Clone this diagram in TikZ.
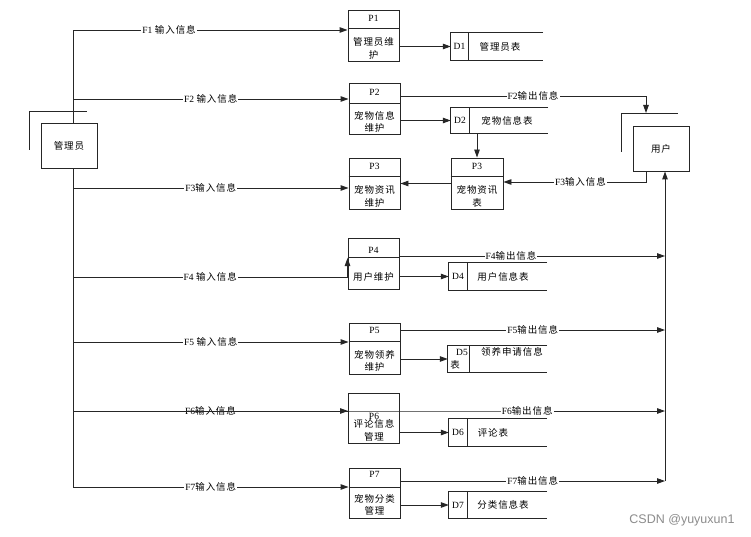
\documentclass[tikz,border=0pt]{standalone}
\usepackage{fontspec}
\setmainfont{Liberation Serif}
\newfontfamily\cjk[LetterSpace=10]{Noto Sans CJK SC}
\newfontfamily\wmfont{Liberation Sans}
\newcommand\zh[1]{{\cjk #1}}
\usetikzlibrary{arrows.meta}
\begin{document}
\begin{tikzpicture}[x=1pt,y=-1pt,
 line/.style={draw=black!85, line width=0.95pt},
 flow/.style={line, -{Triangle[length=8pt,width=5.5pt]}},
 pbox/.style={line, minimum width=51pt, minimum height=51pt, inner sep=0pt},
 ebox/.style={line, minimum width=56pt, minimum height=45pt, inner sep=0pt, font=\fontsize{9.5}{10}\selectfont},
 dstore/.style={minimum height=26pt, inner sep=0pt},
 txt/.style={inner sep=0pt, font=\fontsize{9.5}{12.5}\selectfont, align=center},
 lbl/.style={fill=white, inner sep=1pt, font=\fontsize{9.5}{10}\selectfont},
]
\useasboundingbox (0,0) rectangle (751,537);
\fill[white] (0,0) rectangle (751,537);

% external entities
\node[ebox] (admin) at (69,146) {\zh{管理员}};
\draw[line] (29,150) -- (29,111) -- (87,111);
\node[ebox] (user) at (661,148.5) {\zh{用户}};
\coordinate (ushd) at (621,113);
\draw[line] (621,152) -- (ushd) -- (678,113);

% processes
\node[pbox] (p1) at (373.5,35.5) {};
\draw[line] (p1.west |- 0,28) -- (p1.east |- 0,28);
\node[txt] (p1id) at (373.5,18) {P1};
\node[txt] (p1t) at (373.5,48.5) {\zh{管理员维}\\\zh{护}};

\node[pbox] (p2) at (374.5,109) {};
\draw[line] (p2.west |- 0,103) -- (p2.east |- 0,103);
\node[txt] (p2id) at (374.5,92) {P2};
\node[txt] (p2t) at (374.5,122) {\zh{宠物信息}\\\zh{维护}};

\node[pbox] (p3l) at (374.5,183.5) {};
\draw[line] (p3l.west |- 0,176) -- (p3l.east |- 0,176);
\node[txt] (p3lid) at (374.5,166) {P3};
\node[txt] (p3lt) at (374.5,196.5) {\zh{宠物资讯}\\\zh{维护}};

\node[pbox, minimum width=52pt] (p3r) at (477,183.5) {};
\draw[line] (p3r.west |- 0,176) -- (p3r.east |- 0,176);
\node[txt] (p3rid) at (477,166) {P3};
\node[txt] (p3rt) at (477,196.5) {\zh{宠物资讯}\\\zh{表}};

\node[pbox] (p4) at (373.5,263.5) {};
\draw[line] (p4.west |- 0,257) -- (p4.east |- 0,257);
\node[txt] (p4id) at (373.5,250) {P4};
\node[txt] (p4t) at (373.5,277) {\zh{用户维护}};

\node[pbox] (p5) at (374.5,348.5) {};
\draw[line] (p5.west |- 0,341) -- (p5.east |- 0,341);
\node[txt] (p5id) at (374.5,330) {P5};
\node[txt] (p5t) at (374.5,361) {\zh{宠物领养}\\\zh{维护}};

\node[pbox, minimum height=50pt] (p6) at (374,418) {};
\node[txt] (p6id) at (374,416) {P6};
\node[txt] (p6t) at (374,430.5) {\zh{评论信息}\\\zh{管理}};

\node[pbox, minimum height=50pt] (p7) at (374.5,493) {};
\draw[line] (p7.west |- 0,487) -- (p7.east |- 0,487);
\node[txt] (p7id) at (374.5,474) {P7};
\node[txt] (p7t) at (374.5,505) {\zh{宠物分类}\\\zh{管理}};

% data stores
\node[dstore, minimum width=92pt, minimum height=27pt] (d1) at (497,46.5) {};
\draw[line] (d1.north east) -- (d1.north west) -- (d1.south west) -- (d1.south east);
\draw[line] (d1.north west -| 468,0) -- (d1.south west -| 468,0);
\node[txt] (d1id) at (459.5,46.5) {D1};
\node[txt] (d1t) at (500,46.5) {\zh{管理员表}};

\node[dstore, minimum width=97pt, minimum height=25pt] (d2) at (499.5,120.5) {};
\draw[line] (d2.north east) -- (d2.north west) -- (d2.south west) -- (d2.south east);
\draw[line] (d2.north west -| 469,0) -- (d2.south west -| 469,0);
\node[txt] (d2id) at (460,120.5) {D2};
\node[txt] (d2t) at (507,120.5) {\zh{宠物信息表}};

\node[dstore, minimum width=98pt, minimum height=27pt] (d4) at (498,276.5) {};
\draw[line] (d4.north east) -- (d4.north west) -- (d4.south west) -- (d4.south east);
\draw[line] (d4.north west -| 467,0) -- (d4.south west -| 467,0);
\node[txt] (d4id) at (458,276.5) {D4};
\node[txt] (d4t) at (503,276.5) {\zh{用户信息表}};

\node[dstore, minimum width=99pt] (d5) at (497.5,359) {};
\draw[line] (d5.north east) -- (d5.north west) -- (d5.south west) -- (d5.south east);
\draw[line] (d5.north west -| 469,0) -- (d5.south west -| 469,0);
\node[txt] (d5id) at (462,352) {D5};
\node[txt] (d5b) at (455,365) {\zh{表}};
\node[txt] (d5t) at (512,352) {\zh{领养申请信息}};

\node[dstore, minimum width=98pt, minimum height=27pt] (d6) at (498,432.5) {};
\draw[line] (d6.north east) -- (d6.north west) -- (d6.south west) -- (d6.south east);
\draw[line] (d6.north west -| 467,0) -- (d6.south west -| 467,0);
\node[txt] (d6id) at (458,432.5) {D6};
\node[txt] (d6t) at (493,432.5) {\zh{评论表}};

\node[dstore, minimum width=98pt] (d7) at (498,505) {};
\draw[line] (d7.north east) -- (d7.north west) -- (d7.south west) -- (d7.south east);
\draw[line] (d7.north west -| 467,0) -- (d7.south west -| 467,0);
\node[txt] (d7id) at (458,505) {D7};
\node[txt] (d7t) at (503,505) {\zh{分类信息表}};

% admin trunk
\coordinate (t1) at (73,30);
\coordinate (t2) at (73,99);
\coordinate (t3) at (73,188);
\coordinate (t4) at (73,277);
\coordinate (t5) at (73,342);
\coordinate (t6) at (73,411);
\coordinate (t7) at (73,487);
\draw[line] (t1 |- admin.north) -- (t1);
\draw[line] (t1 |- admin.south) -- (t7);

\draw[flow] (t1) -- node[lbl,pos=0.35] (f1) {F1 \zh{输入信息}} (t1 -| p1.west);
\draw[flow] (t2) -- node[lbl] (f2) {F2 \zh{输入信息}} (t2 -| p2.west);
\draw[flow] (t3) -- node[lbl] (f3) {F3\zh{输入信息}} (t3 -| p3l.west);
\draw[line] (t4) -- node[lbl] (f4) {F4 \zh{输入信息}} (t4 -| p4.west);
\draw[flow] (t4 -| p4.west) -- ++(0,-19);
\draw[flow] (t5) -- node[lbl] (f5) {F5 \zh{输入信息}} (t5 -| p5.west);
\draw[line] (t6) -- node[lbl] (f6) {F6\zh{输入信息}} (t6 -| p6.west);
\draw[flow] (t6) -- (t6 -| p6.west);
\draw[flow] (t7) -- node[lbl] (f7) {F7\zh{输入信息}} (t7 -| p7.west);

% outputs to user
\coordinate (u2) at (646,96);
\draw[flow] (u2 -| p2.east) -- node[lbl,pos=0.54] (o2) {F2\zh{输出信息}} (u2) -- (u2 |- ushd);
\coordinate (u3) at (646,182);
\draw[flow] (u3 |- user.south) -- (u3) -- node[lbl,pos=0.46] (i3) {F3\zh{输入信息}} (u3 -| p3r.east);
\draw[flow] (p3r.west) -- (p3l.east);
\draw[flow] (d2.south -| p3r.north) -- (p3r.north);

\coordinate (rv) at (665,481);
\draw[flow] (rv) -- (rv |- user.south);
\draw[flow] (p4.east |- 0,256) -- node[lbl,pos=0.42] (o4) {F4\zh{输出信息}} (rv |- 0,256);
\draw[flow] (p5.east |- 0,330) -- node[lbl] (o5) {F5\zh{输出信息}} (rv |- 0,330);
\draw[flow] (p6.west |- 0,411) -- (p6.east |- 0,411) -- node[lbl,pos=0.48] (o6) {F6\zh{输出信息}} (rv |- 0,411);
\draw[flow] (p7.east |- 0,481) -- node[lbl] (o7) {F7\zh{输出信息}} (rv);

% process to store
\draw[flow] (d1.west -| p1.east) -- (d1.west);
\draw[flow] (d2.west -| p2.east) -- (d2.west);
\draw[flow] (d4.west -| p4.east) -- (d4.west);
\draw[flow] (d5.west -| p5.east) -- (d5.west);
\draw[flow] (d6.west -| p6.east) -- (d6.west);
\draw[flow] (d7.west -| p7.east) -- (d7.west);

\node[font=\wmfont\fontsize{12.5}{14}\selectfont, text=black!45, inner sep=0pt] (wm) at (682,520) {CSDN @yuyuxun1};
\end{tikzpicture}
\end{document}
